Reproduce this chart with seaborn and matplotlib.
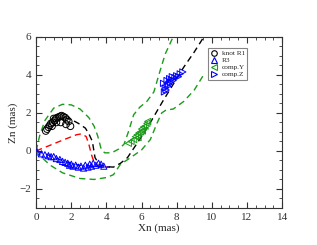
import numpy as np
import pandas as pd
import matplotlib
matplotlib.use("Agg")
import matplotlib.pyplot as plt
from matplotlib.lines import Line2D
from matplotlib.ticker import MultipleLocator
import seaborn as sns

# knot R1 (open black circles)
r1_x = [0.55, 0.62, 0.7, 0.78, 0.85, 0.95, 1.05, 1.12, 1.2, 1.3, 1.38, 1.45, 1.55, 1.65, 1.75, 1.85, 1.95, 0.9, 1.15, 1.4, 1.7, 1.0]
r1_y = [1.05, 1.15, 1.25, 1.35, 1.45, 1.5, 1.6, 1.7, 1.75, 1.78, 1.82, 1.85, 1.8, 1.75, 1.65, 1.55, 1.3, 1.3, 1.5, 1.5, 1.4, 1.7]

# R3 (open blue up triangles)
r3_x = [0.05, 0.3, 0.5, 0.7, 0.85, 1.0, 1.15, 1.35, 1.5, 1.65, 1.8, 1.9, 2.0, 2.1, 2.25,
        2.4, 2.55, 2.7, 2.8, 2.95, 3.05, 3.15, 3.25, 3.4, 3.55, 3.7, 3.85]
r3_y = [-0.05, -0.15, -0.2, -0.25, -0.3, -0.3, -0.4, -0.45, -0.55, -0.6, -0.65, -0.75, -0.7, -0.8, -0.75,
        -0.85, -0.8, -0.9, -0.75, -0.85, -0.7, -0.8, -0.65, -0.75, -0.65, -0.7, -0.8]

# comp.Y (open green left triangles)
cy_x = [5.25, 5.4, 5.55, 5.65, 5.75, 5.85, 5.95, 6.0, 6.1, 6.2, 6.3, 6.35, 5.8, 6.05]
cy_y = [0.4, 0.5, 0.6, 0.75, 0.85, 0.95, 1.0, 1.15, 1.25, 1.3, 1.45, 1.55, 0.7, 1.05]

# comp.Z (open blue right triangles)
cz_x = [7.25, 7.3, 7.35, 7.45, 7.5, 7.6, 7.65, 7.75, 7.8, 7.9, 8.0, 8.1, 8.2, 8.35, 7.4, 7.55, 7.7]
cz_y = [3.55, 3.1, 3.3, 3.7, 3.4, 3.8, 3.6, 3.9, 3.7, 3.85, 3.95, 3.9, 4.05, 4.15, 3.2, 3.5, 3.75]

# dashed paths
black_x = [1.6, 2.0, 2.4, 2.8, 3.0, 3.2, 3.35, 3.6, 4.0, 4.4, 4.8, 5.2, 5.6, 6.0, 6.6, 7.2, 7.8, 8.4, 9.0, 9.55]
black_y = [1.75, 1.65, 1.45, 1.2, 0.9, 0.5, -0.35, -0.72, -0.83, -0.85, -0.65, -0.35, 0.2, 0.75, 1.65, 2.6, 3.5, 4.4, 5.2, 6.0]

red_x = [0.0, 0.8, 1.6, 2.3, 2.6, 2.85, 3.0, 3.15, 3.3, 3.5, 3.8, 4.1]
red_y = [0.0, 0.3, 0.6, 0.85, 0.9, 0.75, 0.35, -0.2, -0.6, -0.78, -0.85, -0.85]

blue_x = [0.0, 0.8, 1.6, 2.4, 3.2, 3.8, 4.2]
blue_y = [0.0, -0.25, -0.55, -0.75, -0.8, -0.83, -0.85]

gup_x = [0.0, 0.2, 0.5, 1.0, 1.5, 2.0, 2.5, 3.0, 3.3, 3.5, 3.7, 3.9, 4.3, 4.7, 5.0, 5.25, 5.55, 5.9, 6.3, 6.7, 7.05, 7.35, 7.8]
gup_y = [0.0, 0.8, 1.6, 2.25, 2.45, 2.42, 2.2, 1.75, 1.3, 0.8, 0.1, -0.1, -0.1, 0.1, 0.35, 1.0, 1.9, 2.3, 2.6, 3.1, 4.2, 5.1, 6.0]

glo_x = [0.0, 0.15, 0.8, 1.5, 2.5, 3.3, 4.0, 4.4, 4.8, 5.3, 6.0, 6.5, 6.9, 7.15, 7.4, 7.8, 8.4, 9.0, 9.6]
glo_y = [0.0, -0.2, -0.75, -1.15, -1.45, -1.5, -1.4, -1.25, -0.7, -0.4, 0.05, 0.6, 1.5, 2.0, 2.15, 2.2, 2.6, 3.2, 4.1]

sns.set_style("ticks")
plt.rcParams['font.family'] = ['Liberation Serif', 'DejaVu Serif']

fig = plt.figure(figsize=(3.17, 2.45), dpi=100)
ax = fig.add_axes([0.114, 0.151, 0.776, 0.699])

green = "#1a9c1a"

for xs, ys, col in [(gup_x, gup_y, green), (glo_x, glo_y, green),
                    (red_x, red_y, "red"), (blue_x, blue_y, "blue"),
                    (black_x, black_y, "black")]:
    d = pd.DataFrame({"x": xs, "y": ys})
    sns.lineplot(data=d, x="x", y="y", sort=False, color=col, lw=1.0, ax=ax)

# grace style dashes
for ln in ax.lines:
    ln.set_dashes((4.5, 3))

for xs, ys, col, mk, sz in [(r1_x, r1_y, "black", "o", 24),
                            (r3_x, r3_y, "blue", "^", 20),
                            (cy_x, cy_y, green, "<", 20),
                            (cz_x, cz_y, "blue", ">", 20)]:
    d = pd.DataFrame({"x": xs, "y": ys})
    sns.scatterplot(data=d, x="x", y="y", marker=mk, s=sz, facecolor="none",
                    edgecolor=col, linewidth=0.7, ax=ax, zorder=3)

ax.set_xlim(0, 14)
ax.set_ylim(-3, 6)
ax.xaxis.set_major_locator(MultipleLocator(2))
ax.xaxis.set_minor_locator(MultipleLocator(0.5))
ax.yaxis.set_major_locator(MultipleLocator(2))
ax.yaxis.set_minor_locator(MultipleLocator(0.5))
ax.tick_params(which="both", direction="in", top=True, right=True, labelsize=8, colors="#333333")
ax.tick_params(which="major", length=4, width=0.8)
ax.tick_params(which="minor", length=2, width=0.6)
for s in ax.spines.values():
    s.set_linewidth(0.8)
    s.set_color("#333333")
ax.set_xlabel("Xn (mas)", fontsize=8, labelpad=1)
ax.set_ylabel("Zn (mas)", fontsize=8, labelpad=1)

handles = [
    Line2D([], [], ls="none", marker="o", mfc="none", mec="black", ms=4, mew=0.8),
    Line2D([], [], ls="none", marker="^", mfc="none", mec="blue", ms=4, mew=0.8),
    Line2D([], [], ls="none", marker="<", mfc="none", mec=green, ms=4, mew=0.8),
    Line2D([], [], ls="none", marker=">", mfc="none", mec="blue", ms=4, mew=0.8),
]
leg = ax.legend(handles, ["knot R1", "R3", "comp.Y", "comp.Z"], loc="upper left",
                bbox_to_anchor=(0.7, 0.935), fontsize=5.2, frameon=True, fancybox=False,
                handlelength=0.8, handletextpad=0.7, labelspacing=0.12, borderpad=0.35,
                borderaxespad=0)
leg.get_frame().set_edgecolor("#666666")
leg.get_frame().set_linewidth(0.8)

fig.savefig("out.png", dpi=100)
